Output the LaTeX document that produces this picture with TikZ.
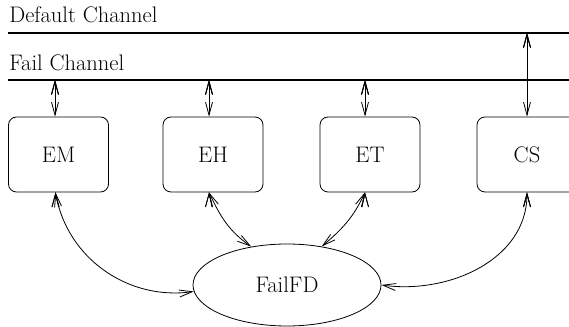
\documentclass[tikz,border=0pt]{standalone}
\usetikzlibrary{arrows.meta,shapes.geometric}

\begin{document}
\begin{tikzpicture}[x=1pt,y=1pt,line width=0.8pt,
    >={Straight Barb[length=13pt,width=7pt]}]
            \tikzstyle{every node}=[font=\fontsize{22.5}{27}\selectfont]
            \tikzstyle{proc}=[draw,rounded corners=8pt,minimum width=100pt,minimum height=75pt,inner sep=0pt]
            \tikzstyle{chan}=[line width=1.6pt]
            \useasboundingbox (0,0) rectangle (569,326);
            % channels
            \node[anchor=base west,inner sep=0pt] (dc) at (9,303) {Default Channel};
            \node[anchor=base west,inner sep=0pt] (fc) at (9,255) {Fail Channel};
            \coordinate (dl) at (8,293);
            \coordinate (dr) at (570,293);
            \coordinate (fl) at (8,246);
            \coordinate (fr) at (570,246);
            \draw[chan] (dl) -- (dr);
            \draw[chan] (fl) -- (fr);
            % processes
            \node[proc] (em) at (58.5,171.5) {EM};
            \node[proc] (eh) at (213,171.5) {EH};
            \node[proc] (et) at (370,171.5) {ET};
            \node[proc] (cs) at (527,171.5) {CS};
            \node[draw,ellipse,minimum width=188pt,minimum height=82pt,inner sep=0pt] (fd) at (287,41) {FailFD};
            % taps on the channels
            \coordinate (f1) at (55,246);
            \coordinate (f2) at (209,246);
            \coordinate (f3) at (365,246);
            \coordinate (d4) at (527,293);
            \draw[<->] (f1) edge (f1 |- em.north);
            \draw[<->] (f2) edge (f2 |- eh.north);
            \draw[<->] (f3) edge (f3 |- et.north);
            \draw[<->] (d4) edge (d4 |- cs.north);
            % links to the failure detector
            \draw[<->] ([xshift=-3pt]em.south) edge[out=-80,in=188] (fd.184);
            \draw[<->] ([xshift=-4pt]eh.south) edge[out=-65,in=145] (fd.133);
            \draw[<->] ([xshift=-5pt]et.south) edge[out=-115,in=40] (fd.48);
            \draw[<->] (cs.south) edge[out=-90,in=-8] (fd.east);
          \end{tikzpicture}
\end{document}
